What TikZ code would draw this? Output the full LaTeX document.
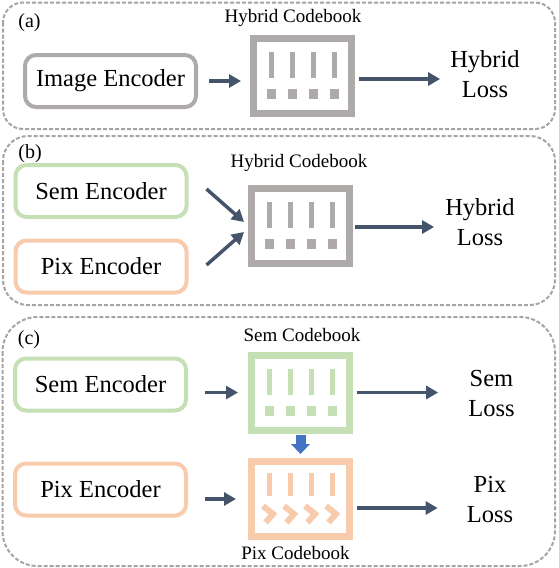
\documentclass[tikz,border=0pt]{standalone}
\usepackage{fontspec}
\setmainfont{LiberationSerif}[Extension=.ttf, UprightFont=*-Regular, BoldFont=*-Bold, ItalicFont=*-Italic, BoldItalicFont=*-BoldItalic]
\usetikzlibrary{arrows.meta,calc}
\definecolor{cbgray}{HTML}{AEAAAA}
\definecolor{semgreen}{HTML}{C5E0B4}
\definecolor{pixorange}{HTML}{F8CBAD}
\definecolor{arrdark}{HTML}{44546A}
\definecolor{blockblue}{HTML}{4472C4}
\definecolor{framegray}{HTML}{A5A5A5}
\newcommand\fbig{\rmfamily\fontsize{24.5}{30}\selectfont}
\newcommand\fsmall{\rmfamily\fontsize{19}{22}\selectfont}
\newcommand\flab{\rmfamily\fontsize{20}{24}\selectfont}
\begin{document}
\begin{tikzpicture}[x=1pt,y=-1pt,
  panel/.style={draw=framegray, line width=2pt, dash pattern=on 4pt off 2pt},
  encbox/.style={draw=#1, line width=4pt, rounded corners=11pt, minimum width=171pt, minimum height=52pt, inner sep=0pt, font=\fbig},
  cbbox/.style={draw=#1, line width=7pt, minimum width=98pt, minimum height=75pt, inner sep=0pt},
  cblabel/.style={font=\fsmall, inner sep=0pt},
  losslabel/.style={font=\fbig, align=center, inner sep=0pt},
  plabel/.style={font=\flab, inner sep=0pt},
  conn/.style={draw=arrdark, line width=3.5pt, -{Triangle[length=12pt,width=13pt]}},
]
\path[use as bounding box, fill=white] (0,0) rectangle (558,568);

% panels
\draw[panel, rounded corners=20pt] (3,2.5) rectangle (555,129);
\draw[panel, rounded corners=25pt] (3,136) rectangle (555,305);
\draw[panel, rounded corners=35pt] (2.5,317) rectangle (555,566);

% (a)
\node[plabel] (la) at (29.5,22.5) {(a)};
\node[cblabel] (cbla) at (293,17.5) {Hybrid Codebook};
\node[encbox=cbgray] (enca) at (110.5,81) {Image Encoder};
\node[cbbox=cbgray] (cba) at (302.5,76) {};
\node[losslabel] (lossa) at (485,74.3) {Hybrid\\Loss};

% (b)
\node[plabel] (lb) at (30,153.5) {(b)};
\node[cblabel] (cblb) at (299,163.3) {Hybrid Codebook};
\node[encbox=semgreen] (semb) at (101,191) {Sem Encoder};
\node[encbox=pixorange] (pixb) at (101,266.5) {Pix Encoder};
\node[cbbox=cbgray] (cbb) at (300.5,226) {};
\node[losslabel] (lossb) at (480,221.8) {Hybrid\\Loss};

% (c)
\node[plabel] (lc) at (29,339.5) {(c)};
\node[cblabel] (cbls) at (302,335) {Sem Codebook};
\node[cblabel] (cblp) at (295.5,553) {Pix Codebook};
\node[encbox=semgreen] (semc) at (100.5,384.5) {Sem Encoder};
\node[encbox=pixorange] (pixc) at (100.5,489.5) {Pix Encoder};
\node[cbbox=semgreen] (cbs) at (300.5,392.5) {};
\node[cbbox=pixorange] (cbp) at (300.5,499) {};
\node[losslabel] (losss) at (491.5,394) {Sem\\Loss};
\node[losslabel] (lossp) at (490,500) {Pix\\Loss};

% codebook contents
\foreach \cb/\col in {cba/cbgray, cbb/cbgray, cbs/semgreen} {
  \begin{scope}[shift={(\cb.center)}]
    \foreach \bx in {-31.5,-10.5,10.5,31.5} {
      \fill[\col] (\bx-2.5,-24) rectangle (\bx+2.5,2);
      \fill[\col] (\bx-4.5,13) rectangle (\bx+4.5,23);
    }
  \end{scope}
}
\begin{scope}[shift={(cbp.center)}]
  \foreach \bx in {-31.5,-10.5,10.5,31.5} {
    \fill[pixorange] (\bx-2.5,-26) rectangle (\bx+2.5,-3);
    \draw[pixorange, line width=6pt] (\bx-6,7) -- (\bx+4,15) -- (\bx-3.5,23.5);
  }
\end{scope}

% connectors (a)
\draw[conn, shorten <=11pt, shorten >=9pt] (enca.east) -- (enca.east -| cba.west);
\draw[conn, shorten <=4pt, shorten >=10pt] ([yshift=-3pt]cba.east) -- ([yshift=-3pt]cba.east -| lossa.west);

% connectors (b)
\draw[conn] ($(semb.east)+(18,-2)$) -- ($(cbb.west)+(-4,-4)$);
\draw[conn] ($(pixb.east)+(18,-1.5)$) -- ($(cbb.west)+(-4,6)$);
\draw[conn, shorten <=2pt, shorten >=11pt] ([yshift=-1pt]cbb.east) -- ([yshift=-1pt]cbb.east -| lossb.west);

% connectors (c)
\draw[conn, shorten <=17pt, shorten >=10pt] (semc.east |- cbs.west) -- (cbs.west);
\draw[conn, shorten <=17pt, shorten >=12pt] (pixc.east |- cbp.west) -- (cbp.west);
\draw[conn, shorten <=4pt, shorten >=30pt] (cbs.east) -- (cbs.east -| losss.west);
\draw[conn, shorten <=4pt, shorten >=29pt] ([yshift=-9pt]cbp.east) -- ([yshift=-9pt]cbp.east -| lossp.west);
\draw[blockblue, line width=10pt, -{Triangle[length=10pt,width=19pt,line width=0pt]}, shorten <=1pt, shorten >=4pt] (cbs.south) -- (cbp.north);
\end{tikzpicture}
\end{document}
